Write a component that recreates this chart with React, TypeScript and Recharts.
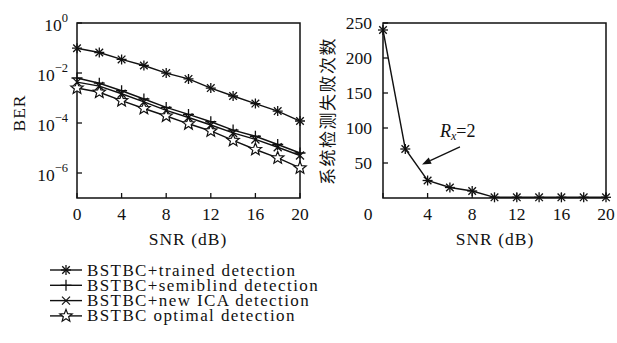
import React from 'react';
import { LineChart, Line, XAxis, YAxis, ReferenceArea, ReferenceLine } from 'recharts';

// SNR points (dB)
const snr = [0, 2, 4, 6, 8, 10, 12, 14, 16, 18, 20];

// BER curves
const berTrained = [0.098, 0.066, 0.035, 0.02, 0.0099, 0.0058, 0.0025, 0.0012, 0.0006, 0.0003, 0.00012];
const berSemiblind = [0.0063, 0.0039, 0.00195, 0.00091, 0.00042, 0.00022, 0.000112, 5.2e-5, 2.95e-5, 1.38e-5, 6.3e-6];
const berIca = [0.0043, 0.003, 0.00148, 0.0007, 0.00032, 0.000166, 8.3e-5, 4e-5, 2.2e-5, 1.07e-5, 5e-6];
const berOptimal = [0.0025, 0.0017, 0.00078, 0.00038, 0.00019, 9.3e-5, 4.8e-5, 2e-5, 8.7e-6, 4e-6, 1.6e-6];

// detection failures (right panel)
const failures = [240, 70, 25, 15, 10, 1, 1, 1, 1, 1, 1];

const xTicks = [0, 4, 8, 12, 16, 20];
const berTicks = [1, 1e-2, 1e-4, 1e-6];
const failTicks = [50, 100, 150, 200, 250];

const legendLabels = [
    'BSTBC+trained detection',
    'BSTBC+semiblind detection',
    'BSTBC+new ICA detection',
    'BSTBC optimal detection',
];

const berData = snr.map((s, i) => ({
    snr: s,
    trained: berTrained[i],
    semiblind: berSemiblind[i],
    ica: berIca[i],
    optimal: berOptimal[i],
}));
const failData = snr.map((s, i) => ({ snr: s, fail: failures[i] }));

const FONT = 'Liberation Serif, Tinos, DejaVu Serif, Noto Serif, serif';
const INK = '#111';

// ---- markers ----
const Asterisk = ({ cx, cy }: any) => (
    <g stroke={INK} strokeWidth={1.3}>
        <line x1={cx - 5} y1={cy} x2={cx + 5} y2={cy} />
        <line x1={cx} y1={cy - 5} x2={cx} y2={cy + 5} />
        <line x1={cx - 3.8} y1={cy - 3.8} x2={cx + 3.8} y2={cy + 3.8} />
        <line x1={cx - 3.8} y1={cy + 3.8} x2={cx + 3.8} y2={cy - 3.8} />
    </g>
);
const Plus = ({ cx, cy }: any) => (
    <g stroke={INK} strokeWidth={1.3}>
        <line x1={cx - 5.5} y1={cy} x2={cx + 5.5} y2={cy} />
        <line x1={cx} y1={cy - 5.5} x2={cx} y2={cy + 5.5} />
    </g>
);
const Cross = ({ cx, cy }: any) => (
    <g stroke={INK} strokeWidth={1.3}>
        <line x1={cx - 4} y1={cy - 4} x2={cx + 4} y2={cy + 4} />
        <line x1={cx - 4} y1={cy + 4} x2={cx + 4} y2={cy - 4} />
    </g>
);
const Star = ({ cx, cy }: any) => {
    const pts: string[] = [];
    for (let k = 0; k < 10; k++) {
        const r = k % 2 === 0 ? 6.5 : 2.8;
        const a = -Math.PI / 2 + (k * Math.PI) / 5;
        pts.push(`${cx + r * Math.cos(a)},${cy + r * Math.sin(a)}`);
    }
    return <polygon points={pts.join(' ')} fill="#fff" stroke={INK} strokeWidth={1.2} />;
};

const dotOf = (M: any) => (p: any) => <M key={`d${p.index}`} cx={p.cx} cy={p.cy} />;

// ---- ticks (drawn inward) ----
const XTick = ({ x, y, payload, shift }: any) => (
    <g>
        <line x1={x} y1={y} x2={x} y2={y - 5} stroke={INK} strokeWidth={1.3} />
        <text
            x={x + (shift && payload.value === 0 ? shift : 0)}
            y={y + 22}
            textAnchor="middle"
            style={{ fontFamily: FONT }}
            fontSize={17.5}
            fill={INK}
        >
            {payload.value}
        </text>
    </g>
);

const PowTick = ({ x, y, payload }: any) => {
    const e = Math.round(Math.log10(payload.value));
    return (
        <g>
            <line x1={x} y1={y} x2={x + 5} y2={y} stroke={INK} strokeWidth={1.3} />
            <text x={x - 9} y={y + 8} textAnchor="end" style={{ fontFamily: FONT }} fontSize={17.5} fill={INK}>
                <tspan>10</tspan>
                <tspan dy={-9} fontSize={12.5}>{e === 0 ? '0' : `\u2212${Math.abs(e)}`}</tspan>
            </text>
        </g>
    );
};

const NumTick = ({ x, y, payload }: any) => (
    <g>
        <line x1={x} y1={y} x2={x + 5} y2={y} stroke={INK} strokeWidth={1.3} />
        <text x={x - 11} y={y + 6} textAnchor="end" style={{ fontFamily: FONT }} fontSize={17.5} fill={INK}>
            {payload.value}
        </text>
    </g>
);

// arrow annotation "R_x = 2"
const Arrow = ({ x1, y1, x2, y2 }: any) => {
    const a = Math.atan2(y2 - y1, x2 - x1);
    const L = 9;
    const w = 3.5;
    const bx = x2 - L * Math.cos(a);
    const by = y2 - L * Math.sin(a);
    const px = -Math.sin(a) * w;
    const py = Math.cos(a) * w;
    return (
        <g>
            <line x1={x1} y1={y1} x2={bx} y2={by} stroke={INK} strokeWidth={1.3} />
            <polygon points={`${x2},${y2} ${bx + px},${by + py} ${bx - px},${by - py}`} fill={INK} />
            <text x={x1 - 20} y={y1 - 10} style={{ fontFamily: FONT }} fontSize={18} fill={INK}>
                <tspan fontStyle="italic">R</tspan>
                <tspan fontStyle="italic" fontSize={12} dy={3}>x</tspan>
                <tspan dy={-3}>=2</tspan>
            </text>
        </g>
    );
};

const titleStyle = { fontFamily: FONT, letterSpacing: 1 };

export default function App() {
    return (
        <div style={{ position: 'absolute', left: 0, top: 0, width: 617, height: 343, background: '#fff' }}>
            <div style={{ position: 'absolute', left: 0, top: 0 }}>
                <LineChart width={310} height={250} data={berData} margin={{ top: 23, right: 10, left: 0, bottom: 0 }}>
                    <XAxis
                        dataKey="snr"
                        type="number"
                        domain={[0, 20]}
                        ticks={xTicks}
                        height={52}
                        axisLine={false}
                        tickLine={false}
                        tickSize={0}
                        tickMargin={0}
                        tick={<XTick />}
                    />
                    <YAxis
                        scale="log"
                        domain={[1e-7, 1]}
                        allowDataOverflow
                        ticks={berTicks}
                        width={77}
                        axisLine={false}
                        tickLine={false}
                        tickSize={0}
                        tickMargin={0}
                        tick={<PowTick />}
                    />
                    <ReferenceArea x1={0} x2={20} y1={1e-7} y2={1} fill="none" stroke={INK} strokeWidth={1.5} ifOverflow="visible" />
                    <Line dataKey="trained" stroke={INK} strokeWidth={1.4} dot={dotOf(Asterisk)} isAnimationActive={false} />
                    <Line dataKey="semiblind" stroke={INK} strokeWidth={1.4} dot={dotOf(Plus)} isAnimationActive={false} />
                    <Line dataKey="ica" stroke={INK} strokeWidth={1.4} dot={dotOf(Cross)} isAnimationActive={false} />
                    <Line dataKey="optimal" stroke={INK} strokeWidth={1.4} dot={dotOf(Star)} isAnimationActive={false} />
                </LineChart>
            </div>
            <div style={{ position: 'absolute', left: 300, top: 0 }}>
                <LineChart width={317} height={250} data={failData} margin={{ top: 23, right: 11, left: 0, bottom: 0 }}>
                    <XAxis
                        dataKey="snr"
                        type="number"
                        domain={[0, 20]}
                        ticks={xTicks}
                        height={52}
                        axisLine={false}
                        tickLine={false}
                        tickSize={0}
                        tickMargin={0}
                        tick={<XTick shift={-15} />}
                    />
                    <YAxis
                        domain={[0, 250]}
                        ticks={failTicks}
                        width={83}
                        axisLine={false}
                        tickLine={false}
                        tickSize={0}
                        tickMargin={0}
                        tick={<NumTick />}
                    />
                    <ReferenceArea x1={0} x2={20} y1={0} y2={250} fill="none" stroke={INK} strokeWidth={1.5} ifOverflow="visible" />
                    <ReferenceLine segment={[{ x: 6.9, y: 73 }, { x: 3.5, y: 48 }]} shape={<Arrow />} ifOverflow="visible" />
                    <Line dataKey="fail" stroke={INK} strokeWidth={1.4} dot={dotOf(Asterisk)} isAnimationActive={false} />
                </LineChart>
            </div>
            {/* axis titles */}
            <svg style={{ position: 'absolute', left: 0, top: 0 }} width={617} height={250}>
                <text x={188} y={245} textAnchor="middle" style={titleStyle} fontSize={17.5} fill={INK}>SNR (dB)</text>
                <text x={495} y={245} textAnchor="middle" style={titleStyle} fontSize={17.5} fill={INK}>SNR (dB)</text>
                <text transform="translate(25,113) rotate(-90)" textAnchor="middle" style={titleStyle} fontSize={17.5} fill={INK}>BER</text>
                <text
                    transform="translate(334,111) rotate(-90)"
                    textAnchor="middle"
                    style={{ fontFamily: 'Noto Sans CJK SC, sans-serif', letterSpacing: 1.5 }}
                    fontSize={17}
                    fill={INK}
                >
                    系统检测失败次数
                </text>
            </svg>
            {/* legend */}
            <svg style={{ position: 'absolute', left: 0, top: 250 }} width={617} height={93}>
                {legendLabels.map((lab, i) => {
                    const y = 20 + i * 15.3;
                    const M = [Asterisk, Plus, Cross, Star][i];
                    return (
                        <g key={lab}>
                            <line x1={50} y1={y} x2={82} y2={y} stroke={INK} strokeWidth={1.4} />
                            <M cx={66} cy={y} />
                            <text x={87} y={y + 5.5} style={{ fontFamily: FONT, letterSpacing: 1.4 }} fontSize={17} fill={INK}>
                                {lab}
                            </text>
                        </g>
                    );
                })}
            </svg>
        </div>
    );
}
